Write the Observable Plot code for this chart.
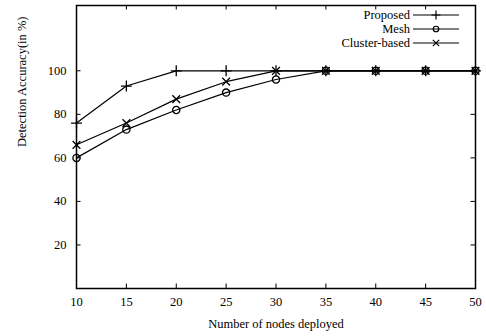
<!DOCTYPE html>
<html>
<head>
<meta charset="utf-8">
<script src="https://cdn.jsdelivr.net/npm/d3@7"></script>
<script src="https://cdn.jsdelivr.net/npm/@observablehq/plot@0.6"></script>
<style>
  html, body { margin: 0; padding: 0; background: #fff; }
  svg { display: block; }
</style>
</head>
<body>
<div id="chart"></div>
<script>
const nodes = [10, 15, 20, 25, 30, 35, 40, 45, 50];
const proposed = [76, 93, 100, 100, 100, 100, 100, 100, 100];
const mesh = [60, 73, 82, 90, 96, 100, 100, 100, 100];
const cluster = [66, 76, 87, 95, 100, 100, 100, 100, 100];
const seriesNames = ["Proposed", "Mesh", "Cluster-based"];
const seriesSymbols = ["plus", "circle", "times"];
const xTicks = [10, 15, 20, 25, 30, 35, 40, 45, 50];
const yTicks = [20, 40, 60, 80, 100];
const xLabel = "Number of nodes deployed";
const yLabel = "Detection Accuracy(in %)";

const seriesValues = [proposed, mesh, cluster];
const rows = [];
seriesNames.forEach((name, s) => {
  nodes.forEach((n, i) => rows.push({series: name, x: n, y: seriesValues[s][i], sym: seriesSymbols[s]}));
});

const font = "'Liberation Serif', 'DejaVu Serif', serif";
const W = 486, H = 336, mL = 76, mR = 11, mT = 5, mB = 48;
const innerH = H - mT - mB, innerW = W - mL - mR, tk = 4.5;

const marks = [];
seriesNames.forEach((name, s) => {
  const d = rows.filter(r => r.series === name);
  marks.push(Plot.line(d, {x: "x", y: "y", stroke: "black", strokeWidth: 1.2}));
  marks.push(Plot.dot(d, {x: "x", y: "y", symbol: () => seriesSymbols[s], stroke: "black", strokeWidth: 1.3, r: 3.6, fill: "none"}));
});
marks.push(Plot.tickX(xTicks, {x: d => d, stroke: "black", insetTop: innerH - tk}));
marks.push(Plot.tickX(xTicks, {x: d => d, stroke: "black", insetBottom: innerH - tk}));
marks.push(Plot.tickY(yTicks, {y: d => d, stroke: "black", insetRight: innerW - tk}));
marks.push(Plot.tickY(yTicks, {y: d => d, stroke: "black", insetLeft: innerW - tk}));
marks.push(Plot.frame({stroke: "black", strokeWidth: 1.5}));
marks.push(Plot.axisX(xTicks, {tickSize: 0, tickPadding: 9, fontSize: 12.5, tickFormat: d => d, label: null}));
marks.push(Plot.axisY(yTicks, {tickSize: 0, tickPadding: 10, fontSize: 12.5, tickFormat: d => d, label: null}));
marks.push(Plot.text([xLabel], {frameAnchor: "bottom", dy: 35, text: d => d, fontSize: 12.5, lineAnchor: "middle"}));
marks.push(Plot.text([yLabel], {frameAnchor: "left", dx: -55, rotate: -90, text: d => d, fontSize: 12.5, lineAnchor: "middle"}));

const plot = Plot.plot({
  width: W, height: H,
  marginLeft: mL, marginRight: mR, marginTop: mT, marginBottom: mB,
  style: {fontFamily: font, fontSize: "12.5px", color: "black", background: "white"},
  x: {domain: [10, 50], axis: null, label: null},
  y: {domain: [0, 130], axis: null, label: null},
  marks
});
document.getElementById("chart").append(plot);

const svg = d3.select(plot);
const lg = svg.append("g").attr("font-family", font).attr("font-size", 12.5);
const symGen = {
  plus: d3.symbol(d3.symbolPlus, 28),
  circle: d3.symbol(d3.symbolCircle, 24),
  times: d3.symbol(d3.symbolTimes, 28)
};
seriesNames.forEach((name, i) => {
  const cy = 15 + i * 14;
  lg.append("text").attr("x", 410).attr("y", cy).attr("dy", "0.35em").attr("text-anchor", "end").attr("fill", "black").text(name);
  lg.append("line").attr("x1", 413).attr("x2", 459).attr("y1", cy).attr("y2", cy).attr("stroke", "black").attr("stroke-width", 1.2);
  lg.append("path").attr("d", symGen[seriesSymbols[i]]()).attr("transform", `translate(436,${cy})`).attr("fill", "none").attr("stroke", "black").attr("stroke-width", 1.2);
});
</script>
</body>
</html>
